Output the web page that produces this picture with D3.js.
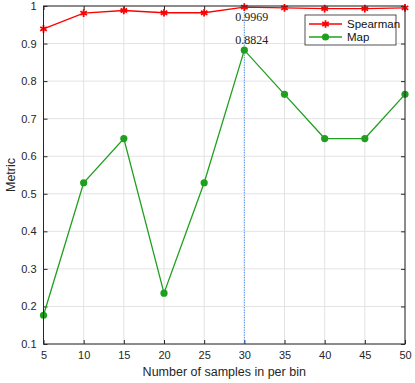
<!DOCTYPE html>
<html>
<head>
<meta charset="utf-8">
<script src="https://cdn.jsdelivr.net/npm/d3@7"></script>
<style>
  body { margin: 0; background: #fff; overflow: hidden; }
  svg { display: block; }
</style>
</head>
<body>
<svg width="415" height="383"></svg>
<script>
const samples = [5, 10, 15, 20, 25, 30, 35, 40, 45, 50];
const spearman = [0.939, 0.981, 0.988, 0.982, 0.982, 0.9969, 0.995, 0.993, 0.993, 0.995];
const mapVals = [0.1765, 0.5294, 0.6471, 0.2353, 0.5294, 0.8824, 0.7647, 0.6471, 0.6471, 0.7647];
const xTicks = [5, 10, 15, 20, 25, 30, 35, 40, 45, 50];
const yTicks = [0.1, 0.2, 0.3, 0.4, 0.5, 0.6, 0.7, 0.8, 0.9, 1];

const svg = d3.select('svg');
const margin = { top: 6, right: 10, bottom: 39, left: 43.5 };
const width = +svg.attr('width');
const height = +svg.attr('height');
const innerWidth = width - margin.left - margin.right;
const innerHeight = height - margin.top - margin.bottom;
const sans = '"Liberation Sans", Arial, sans-serif';
const serif = '"Liberation Serif", "Times New Roman", serif';

const g = svg.append('g')
  .attr('transform', `translate(${margin.left},${margin.top})`);

const x = d3.scaleLinear().domain([5, 50]).range([0, innerWidth]);
const y = d3.scaleLinear().domain([0.1, 1]).range([innerHeight, 0]);

const axisColor = '#262626';

// grid
g.selectAll('.vgrid').data(xTicks).enter().append('line')
  .attr('x1', d => x(d)).attr('x2', d => x(d))
  .attr('y1', 0).attr('y2', innerHeight)
  .attr('stroke', '#e3e3e3').attr('stroke-width', 1);
g.selectAll('.hgrid').data(yTicks).enter().append('line')
  .attr('y1', d => y(d)).attr('y2', d => y(d))
  .attr('x1', 0).attr('x2', innerWidth)
  .attr('stroke', '#e3e3e3').attr('stroke-width', 1);

// axes
const fmtY = d => d === 1 ? '1' : d3.format('.1f')(d);
const styleAxis = sel => {
  sel.attr('font-family', sans).attr('font-size', 11);
  sel.select('.domain').remove();
  sel.selectAll('line').attr('stroke', axisColor);
  sel.selectAll('text').attr('fill', axisColor);
};
const xAxisG = g.append('g').attr('transform', `translate(0,${innerHeight})`)
  .call(d3.axisBottom(x).tickValues(xTicks).tickSize(-4).tickPadding(8))
  .call(styleAxis);
xAxisG.selectAll('text').attr('dy', null).attr('y', 15);
g.append('g')
  .call(d3.axisTop(x).tickValues(xTicks).tickSize(-4).tickFormat(''))
  .call(styleAxis);
g.append('g')
  .call(d3.axisLeft(y).tickValues(yTicks).tickSize(-4).tickPadding(7).tickFormat(fmtY))
  .call(styleAxis);
g.append('g').attr('transform', `translate(${innerWidth},0)`)
  .call(d3.axisRight(y).tickValues(yTicks).tickSize(-4).tickFormat(''))
  .call(styleAxis);

// data tip line
g.append('line')
  .attr('x1', x(30)).attr('x2', x(30))
  .attr('y1', y(spearman[5])).attr('y2', innerHeight)
  .attr('stroke', '#2b7bff').attr('stroke-width', 1)
  .attr('stroke-dasharray', '1,1.5');

// lines
const line = vals => d3.line()
  .x((d, i) => x(samples[i]))
  .y(d => y(d))(vals);

g.append('path').attr('d', line(mapVals))
  .attr('fill', 'none').attr('stroke', '#1ea01e').attr('stroke-width', 1.3);
g.selectAll('.mapPt').data(mapVals).enter().append('circle')
  .attr('cx', (d, i) => x(samples[i])).attr('cy', d => y(d))
  .attr('r', 3.6).attr('fill', '#1ea01e');

g.append('path').attr('d', line(spearman))
  .attr('fill', 'none').attr('stroke', '#ff0000').attr('stroke-width', 1.3);
const star = d3.symbol().type(d3.symbolAsterisk).size(40);
g.selectAll('.spPt').data(spearman).enter().append('path')
  .attr('transform', (d, i) => `translate(${x(samples[i])},${y(d)})`)
  .attr('d', star).attr('fill', 'none').attr('stroke', '#ff0000').attr('stroke-width', 1.8);

// box
g.append('rect').attr('width', innerWidth).attr('height', innerHeight)
  .attr('fill', 'none').attr('stroke', axisColor).attr('stroke-width', 1);

// data tip labels
g.append('text').attr('x', x(30) - 9).attr('y', y(spearman[5]) + 14)
  .attr('font-family', serif).attr('font-size', 12)
  .attr('fill', '#222').text('0.9969');
g.append('text').attr('x', x(30) - 9).attr('y', y(mapVals[5]) - 6)
  .attr('font-family', serif).attr('font-size', 12)
  .attr('fill', '#222').text('0.8824');

// labels
svg.append('text')
  .attr('x', margin.left + innerWidth / 2).attr('y', 376)
  .attr('text-anchor', 'middle').attr('fill', axisColor)
  .attr('font-family', sans).attr('font-size', 12.5)
  .text('Number of samples in per bin');
svg.append('text')
  .attr('transform', `translate(15,${margin.top + innerHeight / 2}) rotate(-90)`)
  .attr('text-anchor', 'middle').attr('fill', axisColor)
  .attr('font-family', sans).attr('font-size', 12.5)
  .text('Metric');

// legend
const lg = svg.append('g').attr('transform', 'translate(305,15)');
lg.append('rect').attr('width', 91).attr('height', 30)
  .attr('fill', '#fff').attr('stroke', axisColor).attr('stroke-width', 0.8);
const legendItems = [
  { name: 'Spearman', color: '#ff0000', type: 'star' },
  { name: 'Map', color: '#1ea01e', type: 'circle' }
];
legendItems.forEach((it, i) => {
  const cy = 9 + i * 13;
  lg.append('line').attr('x1', 4).attr('x2', 37).attr('y1', cy).attr('y2', cy)
    .attr('stroke', it.color).attr('stroke-width', 1.3);
  if (it.type === 'star') {
    lg.append('path').attr('transform', `translate(20.5,${cy})`)
      .attr('d', star).attr('fill', 'none').attr('stroke', it.color).attr('stroke-width', 1.8);
  } else {
    lg.append('circle').attr('cx', 20.5).attr('cy', cy).attr('r', 3.6).attr('fill', it.color);
  }
  lg.append('text').attr('x', 42).attr('y', cy + 4)
    .attr('fill', '#111').attr('font-family', sans).attr('font-size', 11.5)
    .text(it.name);
});
</script>
</body>
</html>
